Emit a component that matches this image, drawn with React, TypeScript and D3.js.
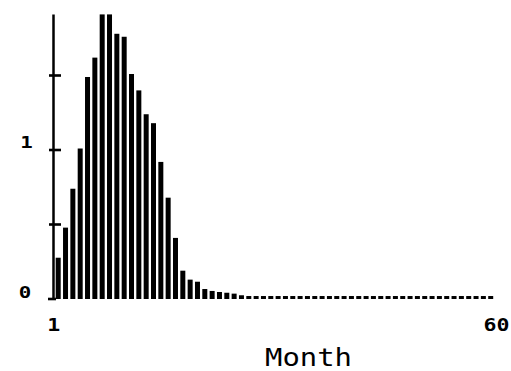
// Monthly distribution bar chart (plotter style)
import { useEffect, useRef } from 'react'
import * as d3 from 'd3'

const months = d3.range(1, 61)

const values = [
  0.277, 0.479, 0.74, 1.01, 1.49, 1.62, 1.91, 1.91, 1.78, 1.76,
  1.51, 1.40, 1.24, 1.18, 0.92, 0.68, 0.41, 0.19, 0.13, 0.116,
  0.067, 0.054, 0.047, 0.042, 0.036, 0.025, 0.02, 0.02, 0.02, 0.02,
  0.02, 0.02, 0.02, 0.02, 0.02, 0.02, 0.02, 0.02, 0.02, 0.02,
  0.02, 0.02, 0.02, 0.02, 0.02, 0.02, 0.02, 0.02, 0.02, 0.02,
  0.02, 0.02, 0.02, 0.02, 0.02, 0.02, 0.02, 0.02, 0.02, 0.02
]

const yTicks = [0, 0.5, 1, 1.5]
const yLabels = [0, 1]
const xLabels = [1, 60]
const xTitle = 'Month'

export default function App() {
  const svgRef = useRef<SVGSVGElement>(null)
  const width = 511
  const height = 371

  useEffect(() => {
    if (!svgRef.current) return
    const svg = d3.select(svgRef.current)
    svg.selectAll('*').remove()

    const x = d3.scaleLinear().domain([1, 60]).range([58.2, 490.7])
    const y = d3.scaleLinear().domain([0, 1]).range([299, 150])
    const barW = 5

    // bars
    svg.append('g')
      .selectAll('rect')
      .data(months)
      .enter()
      .append('rect')
      .attr('x', d => x(d) - barW / 2)
      .attr('y', (d, i) => y(values[i]))
      .attr('width', barW)
      .attr('height', (d, i) => y(0) - y(values[i]))
      .attr('fill', '#000')

    // y axis
    svg.append('line')
      .attr('x1', 53.5).attr('x2', 53.5)
      .attr('y1', y(1.91)).attr('y2', y(0))
      .attr('stroke', '#000')
      .attr('stroke-width', 2.5)

    svg.append('g')
      .selectAll('line')
      .data(yTicks)
      .enter()
      .append('line')
      .attr('x1', d => d === 0 ? 48 : 49)
      .attr('x2', d => d === 0 ? 56 : 61)
      .attr('y1', d => y(d))
      .attr('y2', d => y(d))
      .attr('stroke', '#000')
      .attr('stroke-width', 2.6)

    const labelStyle = (sel: any) => sel
      .attr('text-anchor', 'middle')
      .style('font-family', 'DejaVu Sans Mono')
      .style('font-weight', 'bold')
      .style('font-size', '16px')

    svg.append('g')
      .selectAll('text')
      .data(yLabels)
      .enter()
      .append('text')
      .attr('transform', d => `translate(${d === 0 ? 25 : 26.5},${y(d) - (d === 0 ? 1 : 2)}) scale(1.3,1)`)
      .call(labelStyle)
      .text(d => String(d))

    // x labels
    svg.append('g')
      .selectAll('text')
      .data(xLabels)
      .enter()
      .append('text')
      .attr('transform', d => `translate(${d === 1 ? x(d) - 4.5 : x(d) + 5.8},331) scale(1.35,1.05)`)
      .call(labelStyle)
      .text(d => String(d))

    svg.append('text')
      .attr('x', 265)
      .attr('y', 366)
      .attr('textLength', 87)
      .attr('lengthAdjust', 'spacingAndGlyphs')
      .style('font-family', 'DejaVu Sans Mono')
      .style('font-size', '24px')
      .text(xTitle)
  }, [])

  return (
    <svg
      ref={svgRef}
      width={width}
      height={height}
      style={{ position: 'absolute', left: 0, top: 0, background: '#fff' }}
    />
  )
}
